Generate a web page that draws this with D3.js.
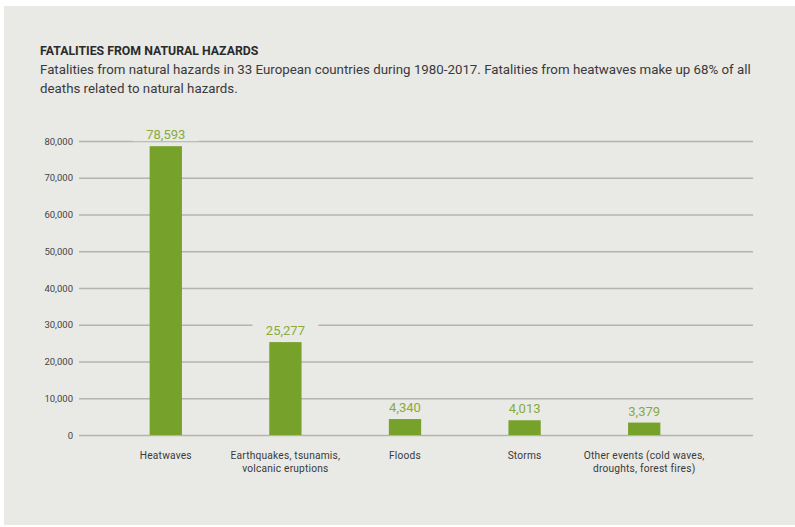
<!DOCTYPE html>
<html lang="en">
<head>
<meta charset="UTF-8">
<title>Fatalities from natural hazards</title>
<script src="https://cdn.jsdelivr.net/npm/d3@7"></script>
<style>
    body { margin: 0; background: #ffffff; }
    svg { display: block; }
    text { font-family: Roboto, "DejaVu Sans", sans-serif; }
</style>
</head>
<body>
<script>
// chart data
const hazards = ["Heatwaves", "Earthquakes, tsunamis,|volcanic eruptions", "Floods", "Storms", "Other events (cold waves,|droughts, forest fires)"];
const fatalities = [78593, 25277, 4340, 4013, 3379];
const yTicks = [0, 10000, 20000, 30000, 40000, 50000, 60000, 70000, 80000];

const title = "FATALITIES FROM NATURAL HAZARDS";
const subtitle = ["Fatalities from natural hazards in 33 European countries during 1980-2017. Fatalities from heatwaves make up 68% of all",
                  "deaths related to natural hazards."];

const W = 795, H = 527;
const bg = "#e9e9e5";
const green = "#76a22c";
const labelGreen = "#8aab3c";

const svg = d3.select("body").append("svg")
    .attr("width", W)
    .attr("height", H);

// grey panel, thin white strip at the top and left
svg.append("rect")
    .attr("x", 4).attr("y", 6)
    .attr("width", W - 4).attr("height", H - 8)
    .attr("fill", bg);

// titles
svg.append("text")
    .attr("x", 40).attr("y", 55)
    .attr("font-size", 12.3)
    .attr("font-weight", "bold")
    .attr("fill", "#2b2b2b")
    .text(title);

svg.selectAll(".sub")
    .data(subtitle)
    .enter()
    .append("text")
    .attr("class", "sub")
    .attr("x", 40)
    .attr("y", (d, i) => 74 + i * 19)
    .attr("font-size", 13.3)
    .attr("fill", "#3a3a3a")
    .text(d => d);

// scales
const x = d3.scaleBand()
    .domain(hazards)
    .range([106, 704])
    .paddingInner(0.73)
    .paddingOuter(0.365);

const y = d3.scaleLinear()
    .domain([0, 80000])
    .range([435, 141]);

// gridlines through the y axis
const yAxis = d3.axisLeft(y)
    .tickValues(yTicks)
    .tickSize(-(753 - 79))
    .tickPadding(6)
    .tickFormat(d3.format(","));

const gy = svg.append("g")
    .attr("transform", "translate(79,0)")
    .call(yAxis);

gy.select(".domain").remove();
gy.selectAll(".tick line")
    .attr("stroke", "#b4b4af")
    .attr("stroke-width", 1.4);
gy.selectAll(".tick text")
    .attr("font-size", 9.5)
    .attr("fill", "#444")
    .attr("font-family", "'DejaVu Sans', sans-serif");

// bars
svg.selectAll(".bar")
    .data(fatalities)
    .enter()
    .append("rect")
    .attr("class", "bar")
    .attr("x", (d, i) => x(hazards[i]))
    .attr("width", x.bandwidth())
    .attr("y", d => y(d))
    .attr("height", d => y(0) - y(d))
    .attr("fill", green);

// value labels, with a patch of background that breaks the gridlines
const fmt = d3.format(",");
const vl = svg.selectAll(".val")
    .data(fatalities)
    .enter()
    .append("g")
    .attr("class", "val")
    .attr("transform", (d, i) => "translate(" + (x(hazards[i]) + x.bandwidth() / 2) + "," + (y(d) - 7) + ")");

vl.append("rect")
    .attr("x", -33)
    .attr("y", -12)
    .attr("width", 66)
    .attr("height", 14)
    .attr("fill", bg);

vl.append("text")
    .attr("text-anchor", "middle")
    .attr("font-size", 13)
    .attr("fill", labelGreen)
    .text(d => fmt(d));

// category labels
const cl = svg.selectAll(".cat")
    .data(hazards)
    .enter()
    .append("text")
    .attr("class", "cat")
    .attr("x", d => x(d) + x.bandwidth() / 2)
    .attr("y", 459)
    .attr("text-anchor", "middle")
    .attr("font-size", 10.2)
    .attr("letter-spacing", 0.2)
    .attr("fill", "#3a3a3a");

cl.selectAll("tspan")
    .data(d => d.split("|"))
    .enter()
    .append("tspan")
    .attr("x", function () { return d3.select(this.parentNode).attr("x"); })
    .attr("dy", (d, i) => i === 0 ? 0 : 13)
    .text(d => d);
</script>
</body>
</html>
